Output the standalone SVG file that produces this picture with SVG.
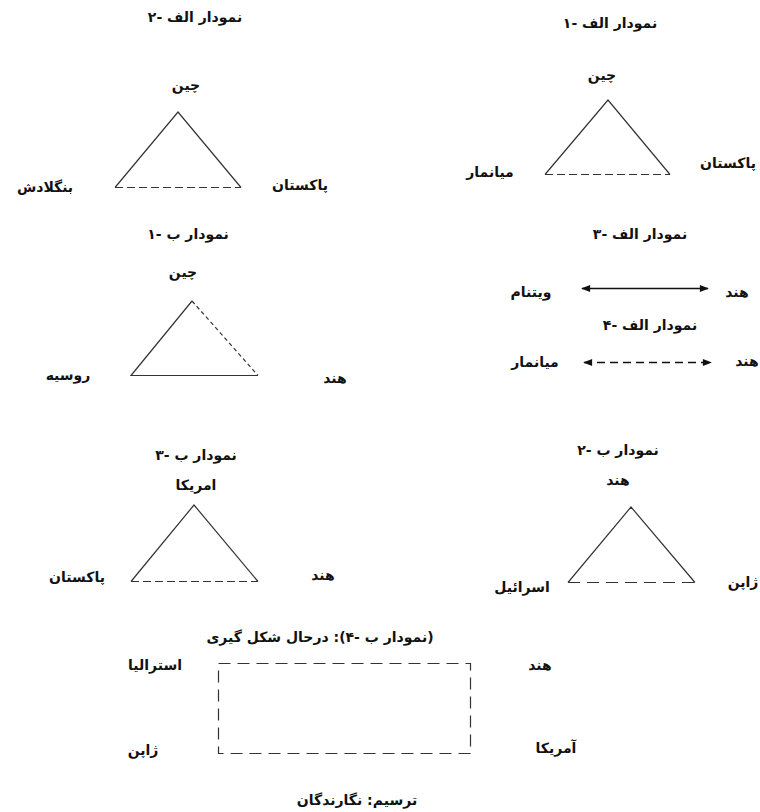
<svg xmlns="http://www.w3.org/2000/svg" width="760" height="812" viewBox="0 0 760 812">
<style>
text{font-family:"DejaVu Sans","Noto Sans",sans-serif;font-size:14px;font-weight:bold;fill:#111;text-anchor:middle;direction:rtl;}
.ln{fill:none;stroke:#333;stroke-width:1.2;}
.ar{fill:none;stroke:#111;stroke-width:1.3;}
.d1{stroke-dasharray:8 4;}
.d2{stroke-dasharray:12 7;}
.d3{stroke-dasharray:4 3;}
.d4{stroke-dasharray:8 5;}
</style>
<defs>
<marker id="ah" viewBox="0 0 10 10" refX="9" refY="5" markerWidth="10" markerHeight="9" orient="auto-start-reverse" markerUnits="userSpaceOnUse">
<path d="M0,1 L10,5 L0,9 Z" fill="#111"/>
</marker>
</defs>
<rect width="760" height="812" fill="#fff"/>

<g id="connectors">
<path class="ln" d="M115,187.5 L178,112 L241,187.5"/>
<path class="ln d1" d="M115,187.5 L241,187.5"/>
<path class="ln" d="M545,174.5 L608,100 L670,174.5"/>
<path class="ln d1" d="M545,174.5 L670,174.5"/>
<path class="ln" d="M258,375.5 L131,375.5 L192,301"/>
<path class="ln d3" d="M192,301 L258,375.5"/>
<line class="ar" x1="582" y1="288.5" x2="708" y2="288.5" marker-start="url(#ah)" marker-end="url(#ah)"/>
<line class="ar d4" x1="584" y1="362.5" x2="711" y2="362.5" marker-start="url(#ah)" marker-end="url(#ah)"/>
<path class="ln" d="M131,581.5 L194,505 L258,581.5"/>
<path class="ln d1" d="M131,581.5 L258,581.5"/>
<path class="ln" d="M568,582.5 L631,507 L695,582.5"/>
<path class="ln d2" d="M568,582.5 L695,582.5"/>
<rect class="ln d2" x="218.5" y="663.5" width="252" height="90"/>
</g>

<g id="title-alef2"><text x="195" y="22">نمودار الف -۲</text></g>
<g id="alef2-china"><text x="186" y="90">چین</text></g>
<g id="alef2-bangladesh"><text x="45" y="192">بنگلادش</text></g>
<g id="alef2-pakistan"><text x="300" y="190">پاکستان</text></g>

<g id="title-alef1"><text x="610" y="28">نمودار الف -۱</text></g>
<g id="alef1-china"><text x="602" y="80">چین</text></g>
<g id="alef1-myanmar"><text x="490" y="177">میانمار</text></g>
<g id="alef1-pakistan"><text x="728" y="168">پاکستان</text></g>

<g id="title-b1"><text x="188" y="239">نمودار ب -۱</text></g>
<g id="b1-china"><text x="183" y="277">چین</text></g>
<g id="b1-russia"><text x="68" y="380">روسیه</text></g>
<g id="b1-india"><text x="335" y="383">هند</text></g>

<g id="title-alef3"><text x="640" y="239">نمودار الف -۳</text></g>
<g id="alef3-vietnam"><text x="531" y="297">ویتنام</text></g>
<g id="alef3-india"><text x="737" y="297">هند</text></g>

<g id="title-alef4"><text x="650" y="330">نمودار الف -۴</text></g>
<g id="alef4-myanmar"><text x="535" y="367">میانمار</text></g>
<g id="alef4-india"><text x="747" y="366">هند</text></g>

<g id="title-b3"><text x="196" y="460">نمودار ب -۳</text></g>
<g id="b3-usa"><text x="196" y="490">امریکا</text></g>
<g id="b3-pakistan"><text x="77" y="582">پاکستان</text></g>
<g id="b3-india"><text x="323" y="580">هند</text></g>

<g id="title-b2"><text x="618" y="455">نمودار ب -۲</text></g>
<g id="b2-india"><text x="618" y="485">هند</text></g>
<g id="b2-israel"><text x="522" y="592">اسرائیل</text></g>
<g id="b2-japan"><text x="743" y="587">ژاپن</text></g>

<g id="title-b4"><text x="320" y="642">(نمودار ب -۴): درحال شکل گیری</text></g>
<g id="b4-australia"><text x="155" y="670">استرالیا</text></g>
<g id="b4-india"><text x="540" y="670">هند</text></g>
<g id="b4-japan"><text x="143" y="755">ژاپن</text></g>
<g id="b4-usa"><text x="556" y="753">آمریکا</text></g>

<g id="source"><text x="357" y="805">ترسیم: نگارندگان</text></g>
</svg>
